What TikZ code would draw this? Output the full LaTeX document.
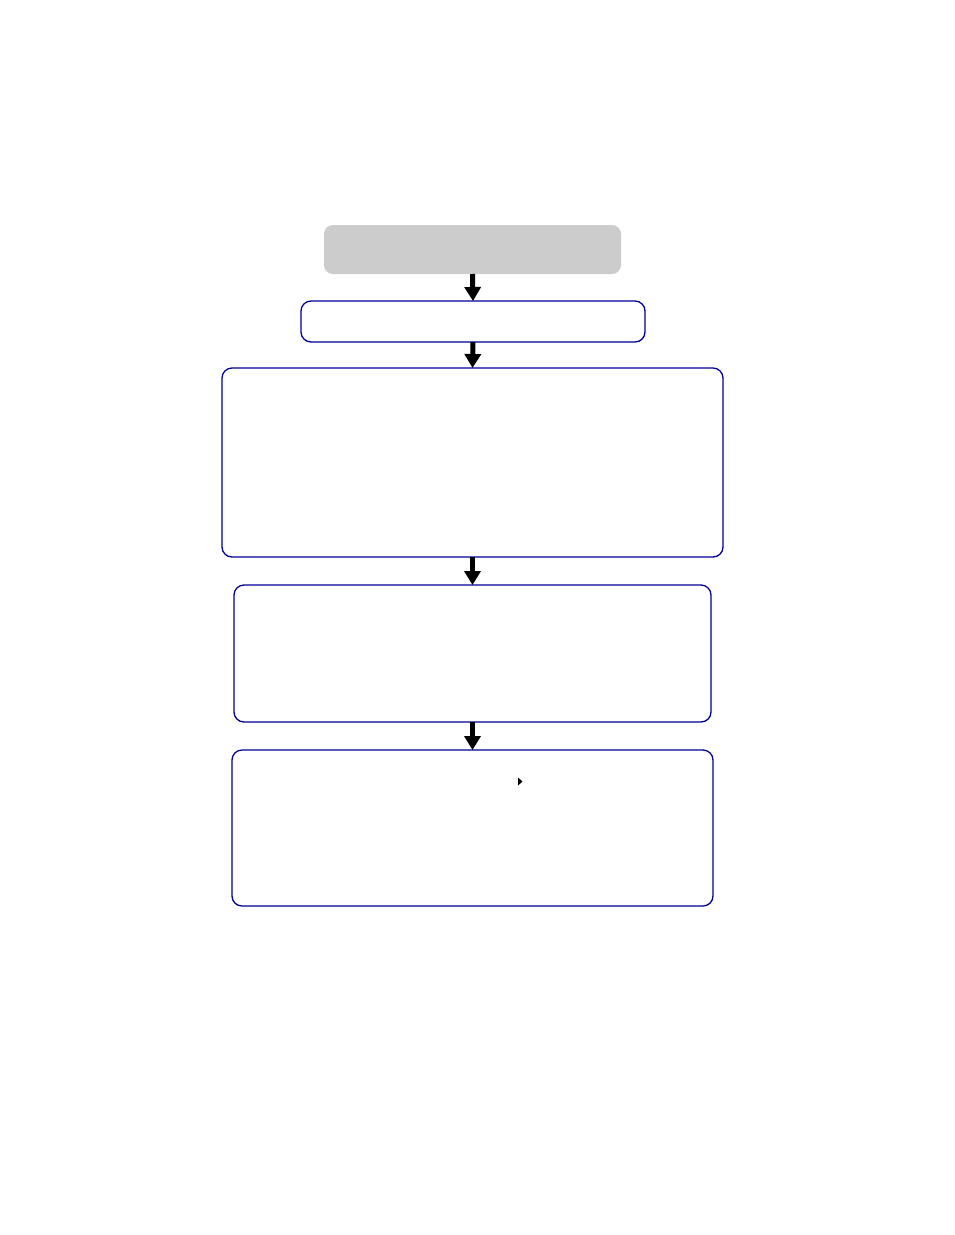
\documentclass[tikz,border=0pt]{standalone}
\usepackage{amsmath}
\usepackage{amssymb}
\usepackage{color}
\usepackage{pgf,tikz}
\usetikzlibrary{arrows,arrows.meta}
\definecolor{boxblue}{rgb}{0.,0.,0.6}
\definecolor{startgray}{rgb}{0.8,0.8,0.8}
\tikzset{
  flowbox/.style={draw=boxblue,line width=1.3pt,rounded corners=10pt,fill=white,inner sep=0pt,outer sep=0pt},
  startbox/.style={fill=startgray,rounded corners=9pt,inner sep=0pt,outer sep=0pt},
  flowarrow/.style={-{Triangle[length=14pt,width=16pt]},line width=5pt,line cap=butt,black}
}
\begin{document}
\begin{tikzpicture}[line cap=round,line join=round,>=triangle 45,x=1pt,y=-1pt]
		\useasboundingbox (0.,0.) rectangle (954.,1235.);
		\node [startbox,minimum width=297pt,minimum height=49pt] (start) at (472.5,249.5) {};
		\node [flowbox,minimum width=344pt,minimum height=41pt] (boxa) at (473.,321.5) {};
		\node [flowbox,minimum width=501pt,minimum height=189pt] (boxb) at (472.5,462.5) {};
		\node [flowbox,minimum width=477pt,minimum height=137pt] (boxc) at (472.5,653.5) {};
		\node [flowbox,minimum width=481pt,minimum height=156pt] (boxd) at (472.5,828.) {};
		\draw [flowarrow] (start.south) -- (boxa.north);
		\draw [flowarrow] (boxa.south) -- (boxb.north);
		\draw [flowarrow] (boxb.south) -- (boxc.north);
		\draw [flowarrow] (boxc.south) -- (boxd.north);
		\fill [black] (518.,777.5)-- (522.5,781.5)-- (518.,785.5)-- cycle;
\end{tikzpicture}
\end{document}
